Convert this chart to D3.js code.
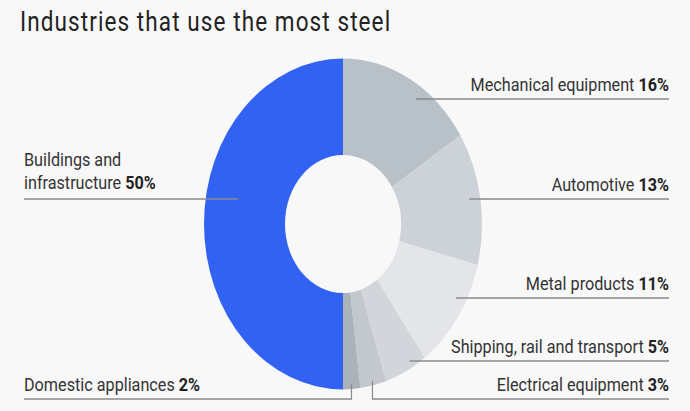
<!DOCTYPE html>
<html>
<head>
<meta charset="utf-8">
<script src="https://cdn.jsdelivr.net/npm/d3@7"></script>
<style>
  body { margin: 0; background: #f8f8f8; }
  svg { display: block; }
  text { font-family: Roboto, "Noto Sans", sans-serif; fill: #333; }
</style>
</head>
<body>
<div id="chart"></div>
<script>
var categories = ["Mechanical equipment", "Automotive", "Metal products",
  "Shipping, rail and transport", "Electrical equipment", "Domestic appliances",
  "Buildings and infrastructure"];
var shares = [16, 13, 11, 5, 3, 2, 50];

var colors = ["#b9c1c8", "#cdd2d8", "#e3e5e9", "#d2d6db", "#c2c8ce", "#aab2ba", "#3162f2"];

var width = 690, height = 411;
var k = 1.19;          // the picture is stretched vertically
var cx = 343, cy = 224 / k;
var radius = 139;

// label layout: line y (screen px), leader type, radius where the leader starts
var layout = [
  { y: 99,  side: "right", r: 128 },
  { y: 199, side: "right", r: 128 },
  { y: 298, side: "right", r: 129 },
  { y: 361, side: "right", r: 133 },
  { y: 399, side: "right", r: 135, elbow: true },
  { y: 399, side: "left",  r: 135, elbow: true },
  { y: 199, side: "left",  r: 107 }
];

var svg = d3.select("#chart").append("svg")
    .attr("width", width)
    .attr("height", height);

svg.append("rect").attr("width", width).attr("height", height).attr("fill", "#f8f8f8");

var root = svg.append("g").attr("transform", "scale(1," + k + ")");

root.append("text")
    .attr("x", 20)
    .attr("y", 31.5 / k)
    .style("font-size", "22.5px")
    .style("letter-spacing", "1.1px")
    .style("fill", "#222")
    .text("Industries that use the most steel");

var pie = d3.pie().sort(null).value(function(d) { return d; });
var arcs = pie(shares);

var arc = d3.arc()
    .outerRadius(radius)
    .innerRadius(58);

var g = root.append("g").attr("transform", "translate(" + cx + "," + cy + ")");

g.selectAll(".slice")
  .data(arcs)
  .enter().append("path")
    .attr("class", "slice")
    .attr("d", arc)
    .attr("fill", function(d, i) { return colors[i]; });

var lines = root.append("g")
    .attr("fill", "none")
    .attr("stroke", "#8a8a8a")
    .attr("stroke-width", 1.2);

var labels = root.append("g").style("font-size", "16.2px");

arcs.forEach(function(d, i) {
  var L = layout[i];
  var ly = L.y / k;
  var mid = (d.startAngle + d.endAngle) / 2;
  var endX = L.side == "right" ? 669 : 24;
  if (L.elbow) {
    var px = cx + L.r * Math.sin(mid);
    var py = cy - L.r * Math.cos(mid);
    lines.append("path")
      .attr("d", "M" + px + "," + py + "V" + ly + "H" + endX);
  } else {
    var dy = ly - cy;
    var dx = Math.sqrt(L.r * L.r - dy * dy);
    var sx = L.side == "right" ? cx + dx : cx - dx;
    lines.append("path")
      .attr("d", "M" + sx + "," + ly + "H" + endX);
  }

  var anchor = L.side == "right" ? "end" : "start";
  var name = categories[i];
  var t;
  if (name == "Buildings and infrastructure") {
    labels.append("text")
      .attr("x", endX).attr("y", (L.y - 32.5) / k)
      .attr("text-anchor", anchor)
      .text("Buildings and");
    t = labels.append("text")
      .attr("x", endX).attr("y", (L.y - 9.5) / k)
      .attr("text-anchor", anchor);
    t.append("tspan").text("infrastructure ");
  } else {
    t = labels.append("text")
      .attr("x", endX).attr("y", (L.y - 7.5) / k)
      .attr("text-anchor", anchor);
    t.append("tspan").text(name + " ");
  }
  t.append("tspan")
    .style("font-weight", "bold")
    .style("fill", "#222")
    .text(shares[i] + "%");
});
</script>
</body>
</html>
